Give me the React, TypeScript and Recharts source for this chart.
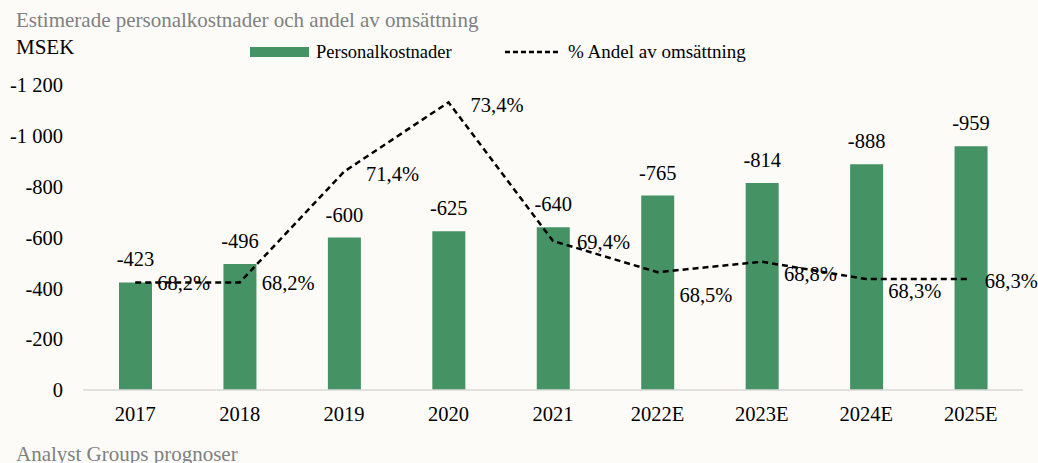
import React from "react";
import {
  ComposedChart,
  Bar,
  Line,
  XAxis,
  YAxis,
  LabelList,
  Legend,
} from "recharts";

const years = ["2017", "2018", "2019", "2020", "2021", "2022E", "2023E", "2024E", "2025E"];
const personalkostnader = [-423, -496, -600, -625, -640, -765, -814, -888, -959];
const andelAvOmsattning = [68.2, 68.2, 71.4, 73.4, 69.4, 68.5, 68.8, 68.3, 68.3];
const yTicks = [-1200, -1000, -800, -600, -400, -200, 0];

const data = years.map((year, i) => ({
  year,
  kost: personalkostnader[i],
  andel: andelAvOmsattning[i],
}));

// label nudges for the percent labels (Excel placed them by hand-ish)
const pctDx = [22, 22, 22, 22, 24, 22, 22, 22, 14];
const pctDy = [0, 0, 2, 2, 1, 23, 12, 12, 2];

const FONT = '"Liberation Serif", "Times New Roman", serif';
const GREEN = "#459265";

const fmtNum = (v: number) => {
  const s = Math.abs(v).toString().replace(/\B(?=(\d{3})+(?!\d))/g, " ");
  return (v < 0 ? "-" : "") + s;
};

const PctLabel = (props: any) => {
  const { x, y, value, index } = props;
  return (
    <text
      x={x + pctDx[index]}
      y={y + pctDy[index]}
      dy="0.35em"
      fontFamily={FONT}
      fontSize={20.5}
      fill="#000"
    >
      {value.toFixed(1).replace(".", ",")}%
    </text>
  );
};

const LegendContent = () => (
  <div
    style={{
      position: "absolute",
      left: 0,
      top: 0,
      width: 1038,
      fontFamily: FONT,
      fontSize: 19,
      color: "#000",
    }}
  >
    <div style={{ position: "absolute", left: 250, top: 47, width: 59, height: 10, background: GREEN }} />
    <div style={{ position: "absolute", left: 316, top: 41, lineHeight: "22px", fontSize: 18.5 }}>Personalkostnader</div>
    <svg style={{ position: "absolute", left: 505, top: 47 }} width={56} height={10}>
      <line x1={0} y1={5} x2={56} y2={5} stroke="#000" strokeWidth={2.5} strokeDasharray="5 3" />
    </svg>
    <div style={{ position: "absolute", left: 568, top: 41, lineHeight: "22px" }}>% Andel av omsättning</div>
  </div>
);

export default function App() {
  return (
    <div
      style={{
        position: "absolute",
        left: 0,
        top: 0,
        width: 1038,
        height: 463,
        background: "#fcfbf7",
        fontFamily: FONT,
        overflow: "hidden",
      }}
    >
      <div style={{ position: "absolute", left: 16, top: 7, fontSize: 21, color: "#808080", lineHeight: "26px" }}>
        Estimerade personalkostnader och andel av omsättning
      </div>
      <div style={{ position: "absolute", left: 16, top: 34, fontSize: 21, color: "#000", lineHeight: "26px" }}>
        MSEK
      </div>
      <div style={{ position: "absolute", left: 16, top: 441, fontSize: 21, color: "#808080", lineHeight: "26px" }}>
        Analyst Groups prognoser
      </div>
      <ComposedChart
        width={1038}
        height={463}
        data={data}
        margin={{ top: 85, right: 15, bottom: 43, left: 0 }}
        barCategoryGap={0}
      >
        <Legend
          content={<LegendContent />}
          wrapperStyle={{ position: "absolute", left: 0, top: 0, width: 1038, height: 0 }}
        />
        <XAxis
          dataKey="year"
          tickLine={false}
          axisLine={{ stroke: "#d9d9d9", strokeWidth: 1.5 }}
          tick={{ fill: "#000", fontSize: 20.5, fontFamily: FONT }}
          tickMargin={10}
          interval={0}
        />
        <YAxis
          yAxisId="kost"
          domain={[-1200, 0]}
          reversed
          ticks={yTicks}
          tickFormatter={fmtNum}
          tickLine={false}
          axisLine={false}
          width={83}
          tickMargin={14}
          tick={{ fill: "#000", fontSize: 20.5, fontFamily: FONT }}
        />
        <YAxis yAxisId="pct" orientation="right" domain={[65.1, 73.9]} hide />
        <Bar yAxisId="kost" dataKey="kost" fill={GREEN} barSize={33} isAnimationActive={false}>
          <LabelList
            dataKey="kost"
            position="top"
            offset={16}
            formatter={(v: any) => fmtNum(Number(v))}
            style={{ fill: "#000", fontSize: 20.5, fontFamily: FONT }}
          />
        </Bar>
        <Line
          yAxisId="pct"
          type="linear"
          dataKey="andel"
          stroke="#000"
          strokeWidth={2.5}
          strokeDasharray="6 4"
          dot={false}
          activeDot={false}
          isAnimationActive={false}
        >
          <LabelList dataKey="andel" content={<PctLabel />} />
        </Line>
      </ComposedChart>
    </div>
  );
}
